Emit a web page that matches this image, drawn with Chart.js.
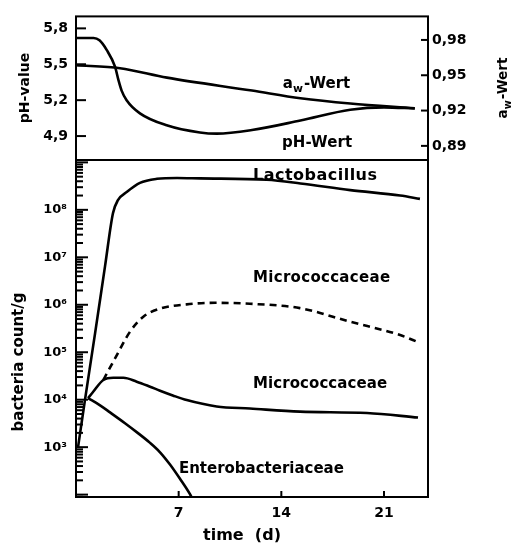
<!DOCTYPE html>
<html><head><meta charset="utf-8">
<script src="https://cdn.jsdelivr.net/npm/chart.js@4.4.0/dist/chart.umd.min.js"></script>
<style>
html,body{margin:0;padding:0;background:#fff;}
#wrap{position:relative;width:511px;height:544px;overflow:hidden;}
canvas{position:absolute;left:0;top:0;}
</style></head><body>
<div id="wrap"><canvas id="cA" width="511" height="544"></canvas><canvas id="cB" width="511" height="544"></canvas></div>
<script>
// ---------- data ----------
const phDays   = [0, 1.2, 1.6, 2.09, 2.66, 2.89, 3.11, 3.45, 4.36, 6.18, 8.45, 9.6, 12.0, 15.3, 18.7, 21.0, 23.1];
const phValues = [5.72, 5.72, 5.70, 5.62, 5.48, 5.37, 5.28, 5.20, 5.09, 4.99, 4.93, 4.92, 4.95, 5.03, 5.12, 5.14, 5.13];

const awDays   = [0, 3.0, 6.2, 12.0, 15.3, 18.7, 23.1];
const awValues = [0.9585, 0.956, 0.948, 0.937, 0.9305, 0.926, 0.922];

const lactoDays   = [0.14, 0.61, 1.30, 1.98, 2.52, 2.86, 3.48, 4.36, 5.52, 6.89, 8.45, 13.0, 15.3, 18.7, 22.1, 23.45];
const lactoCounts = [1.0e3, 9.8e3, 2.5e5, 6.5e6, 8.5e7, 1.6e8, 2.4e8, 3.7e8, 4.5e8, 4.7e8, 4.6e8, 4.3e8, 3.6e8, 2.6e8, 2.0e8, 1.7e8];

const microDays   = [0.82, 1.16, 1.86, 2.54, 3.23, 4.14, 5.05, 5.73, 6.6, 7.55, 9.59, 11.86, 15.27, 19.84, 23.32];
const microCounts = [1.08e4, 1.45e4, 2.6e4, 2.9e4, 2.9e4, 2.4e4, 1.88e4, 1.55e4, 1.23e4, 9.8e3, 7.2e3, 6.5e3, 5.6e3, 5.25e3, 4.2e3];

const microDashDays   = [1.86, 2.7, 3.68, 4.59, 5.73, 7.55, 9.5, 11.86, 15.27, 18.68, 22.1, 23.4];
const microDashCounts = [2.6e4, 7.8e4, 2.7e5, 5.6e5, 8.3e5, 1.02e6, 1.1e6, 1.05e6, 8.5e5, 4.4e5, 2.3e5, 1.6e5];

const enteroDays   = [0.82, 1.64, 2.32, 3.34, 4.16, 5.05, 5.73, 6.41, 7.09, 7.77, 7.95];
const enteroCounts = [1.08e4, 7.6e3, 5.4e3, 3.2e3, 2.05e3, 1.23e3, 780, 430, 215, 102, 80];

const phTicks   = [4.9, 5.2, 5.5, 5.8];
const awTicks   = [0.89, 0.92, 0.95, 0.98];
const dayTicks  = [7, 14, 21];
const countDecades = [3, 4, 5, 6, 7, 8];
const seriesNames = ['Lactobacillus', 'Micrococcaceae', 'Micrococcaceae', 'Enterobacteriaceae'];

// ---------- helpers ----------
const FAM = '"DejaVu Sans", sans-serif';
const SUP = {'0':'\u2070','1':'\u00b9','2':'\u00b2','3':'\u00b3','4':'\u2074','5':'\u2075','6':'\u2076','7':'\u2077','8':'\u2078','9':'\u2079'};
const pts = (xs, ys) => xs.map((x, i) => ({x, y: ys[i]}));
const lineDs = (data, axis, dash) => ({
  data, yAxisID: axis, borderColor: '#000', borderWidth: 2.6, pointRadius: 0,
  cubicInterpolationMode: 'monotone', fill: false, borderDash: dash || [], borderCapStyle: 'butt'
});
function minorLogTicks(lo, hi) {
  const out = [];
  for (let e = Math.floor(Math.log10(lo)); e <= Math.ceil(Math.log10(hi)); e++) {
    for (let m = 1; m <= 9; m++) {
      const v = m * Math.pow(10, e);
      if (v >= lo && v <= hi) out.push({value: v, major: m === 1});
    }
  }
  return out;
}
function drawFitted(ctx, text, x, y, size, width) {
  ctx.font = `bold ${size}px ${FAM}`;
  ctx.letterSpacing = '0px';
  const w = ctx.measureText(text).width;
  if (width && text.length > 1) ctx.letterSpacing = ((width - w) / (text.length - 1)).toFixed(2) + 'px';
  ctx.fillText(text, x, y);
  ctx.letterSpacing = '0px';
}
function awText(ctx, x, y, size) {
  ctx.font = `bold ${size}px ${FAM}`;
  const wa = ctx.measureText('a').width;
  ctx.fillText('a', x, y);
  ctx.font = `bold ${size * 0.72}px ${FAM}`;
  const ww = ctx.measureText('w').width;
  ctx.fillText('w', x + wa, y + size * 0.28);
  ctx.font = `bold ${size}px ${FAM}`;
  ctx.fillText('-Wert', x + wa + ww + 1, y);
}
function awWidth(ctx, size) {
  ctx.font = `bold ${size}px ${FAM}`;
  const a = ctx.measureText('a').width + ctx.measureText('-Wert').width;
  ctx.font = `bold ${size * 0.72}px ${FAM}`;
  return a + ctx.measureText('w').width + 1;
}

// frame + inward ticks + texts
const decor = {
  id: 'decor',
  afterDraw(chart, args, o) {
    const ctx = chart.ctx, ca = chart.chartArea;
    ctx.save();
    ctx.strokeStyle = '#000'; ctx.fillStyle = '#000';
    ctx.lineWidth = 2;
    (o.ticks || []).forEach(def => {
      const s = chart.scales[def.id];
      s.ticks.forEach(t => {
        const p = s.getPixelForValue(t.value);
        const len = t.major === false ? def.minor : def.len;
        ctx.beginPath();
        if (def.side === 'left') { ctx.moveTo(ca.left, p); ctx.lineTo(ca.left + len, p); }
        if (def.side === 'right') { ctx.moveTo(ca.right, p); ctx.lineTo(ca.right - len, p); }
        if (def.side === 'bottom') { ctx.moveTo(p, ca.bottom); ctx.lineTo(p, ca.bottom - len); }
        ctx.stroke();
      });
    });
    ctx.lineWidth = 2;
    ctx.strokeRect(ca.left, ca.top, ca.right - ca.left, ca.bottom - ca.top);
    ctx.textBaseline = 'alphabetic'; ctx.textAlign = 'left';
    (o.labels || []).forEach(l => {
      const x = chart.scales.x.getPixelForValue(l.x);
      const y = chart.scales[l.axis].getPixelForValue(l.y);
      if (l.aw) awText(ctx, x, y, l.size);
      else drawFitted(ctx, l.text, x, y, l.size, l.width);
    });
    (o.titles || []).forEach(t => {
      ctx.save();
      ctx.translate(t.x, t.y);
      if (t.rot) ctx.rotate(-Math.PI / 2);
      if (t.aw) {
        const w = awWidth(ctx, t.size);
        awText(ctx, -w / 2, 0, t.size);
      } else {
        ctx.font = `bold ${t.size}px ${FAM}`;
        const w = ctx.measureText(t.text).width;
        drawFitted(ctx, t.text, -(t.width || w) / 2, 0, t.size, t.width);
      }
      ctx.restore();
    });
    ctx.restore();
  }
};

const tickFont = {family: FAM, weight: 'bold', size: 14};
const noGrid = {display: false, drawTicks: false};

// ---------- top panel: pH and aw ----------
new Chart(document.getElementById('cA'), {
  type: 'line',
  data: {datasets: [
    lineDs(pts(phDays, phValues), 'ph'),
    lineDs(pts(awDays, awValues), 'aw')
  ]},
  options: {
    responsive: false, animation: false, events: [],
    layout: {padding: {top: 16, bottom: 384, left: 0, right: 0}},
    plugins: {
      legend: {display: false}, tooltip: {enabled: false},
      decor: {
        ticks: [{id: 'ph', side: 'left', len: 10, minor: 10}, {id: 'aw', side: 'right', len: 7, minor: 7}],
        labels: [
          {aw: true, x: 14.1, y: 0.939, axis: 'aw', size: 15},
          {text: 'pH-Wert', x: 14.05, y: 0.889, axis: 'aw', size: 15, width: 70}
        ],
        titles: [
          {text: 'pH-value', x: 29, y: 88, rot: true, size: 14},
          {aw: true, x: 507, y: 88, rot: true, size: 13.5}
        ]
      }
    },
    scales: {
      x: {type: 'linear', min: 0, max: 24, display: false},
      ph: {
        type: 'linear', position: 'left', min: 4.7, max: 5.9, bounds: 'data',
        afterFit(s) { s.width = 76; },
        afterBuildTicks(s) { s.ticks = phTicks.map(v => ({value: v})); },
        ticks: {font: tickFont, color: '#000', padding: 8, autoSkip: false,
          callback: v => v.toFixed(1).replace('.', ',')},
        grid: noGrid, border: {display: false}
      },
      aw: {
        type: 'linear', position: 'right', min: 0.878, max: 1.0, bounds: 'data',
        afterFit(s) { s.width = 83; },
        afterBuildTicks(s) { s.ticks = awTicks.map(v => ({value: v})); },
        ticks: {font: tickFont, color: '#000', padding: 4, autoSkip: false,
          callback: v => v.toFixed(2).replace('.', ',')},
        grid: noGrid, border: {display: false}
      }
    }
  },
  plugins: [decor]
});

// ---------- bottom panel: bacteria counts ----------
const yMin = Math.pow(10, 1.95), yMax = Math.pow(10, 9.05);
new Chart(document.getElementById('cB'), {
  type: 'line',
  data: {datasets: [
    lineDs(pts(lactoDays, lactoCounts), 'y'),
    lineDs(pts(microDashDays, microDashCounts), 'y', [7, 5]),
    lineDs(pts(microDays, microCounts), 'y'),
    lineDs(pts(enteroDays, enteroCounts), 'y')
  ]},
  options: {
    responsive: false, animation: false, events: [],
    layout: {padding: {top: 160, bottom: 0, left: 0, right: 83}},
    plugins: {
      legend: {display: false}, tooltip: {enabled: false},
      decor: {
        ticks: [{id: 'y', side: 'left', len: 12, minor: 7}, {id: 'x', side: 'bottom', len: 6, minor: 6}],
        labels: [
          {text: seriesNames[0], x: 12.07, y: 4.26e8, axis: 'y', size: 16, width: 124},
          {text: seriesNames[1], x: 12.07, y: 3.0e6, axis: 'y', size: 15, width: 137},
          {text: seriesNames[2], x: 12.07, y: 1.76e4, axis: 'y', size: 15, width: 134},
          {text: seriesNames[3], x: 7.02, y: 285, axis: 'y', size: 15, width: 165}
        ],
        titles: [
          {text: 'bacteria count/g', x: 23, y: 362, rot: true, size: 15},
          {text: 'time  (d)', x: 242, y: 540, rot: false, size: 16}
        ]
      }
    },
    scales: {
      x: {
        type: 'linear', min: 0, max: 24, position: 'bottom', bounds: 'data',
        afterFit(s) { s.height = 47; },
        afterBuildTicks(s) { s.ticks = dayTicks.map(v => ({value: v})); },
        ticks: {font: tickFont, color: '#000', padding: 8, autoSkip: false, maxRotation: 0},
        grid: noGrid, border: {display: false}
      },
      y: {
        type: 'logarithmic', position: 'left', min: yMin, max: yMax, bounds: 'data',
        afterFit(s) { s.width = 76; },
        afterBuildTicks(s) { s.ticks = minorLogTicks(yMin, yMax); },
        ticks: {font: {family: FAM, weight: 'bold', size: 13}, color: '#000', padding: 9, autoSkip: false,
          callback: v => {
            const e = Math.round(Math.log10(v));
            return (Math.abs(v - Math.pow(10, e)) < 1e-6 * v && countDecades.includes(e)) ? '10' + SUP[String(e)] : '';
          }},
        grid: noGrid, border: {display: false}
      }
    }
  },
  plugins: [decor]
});
</script>
</body></html>
